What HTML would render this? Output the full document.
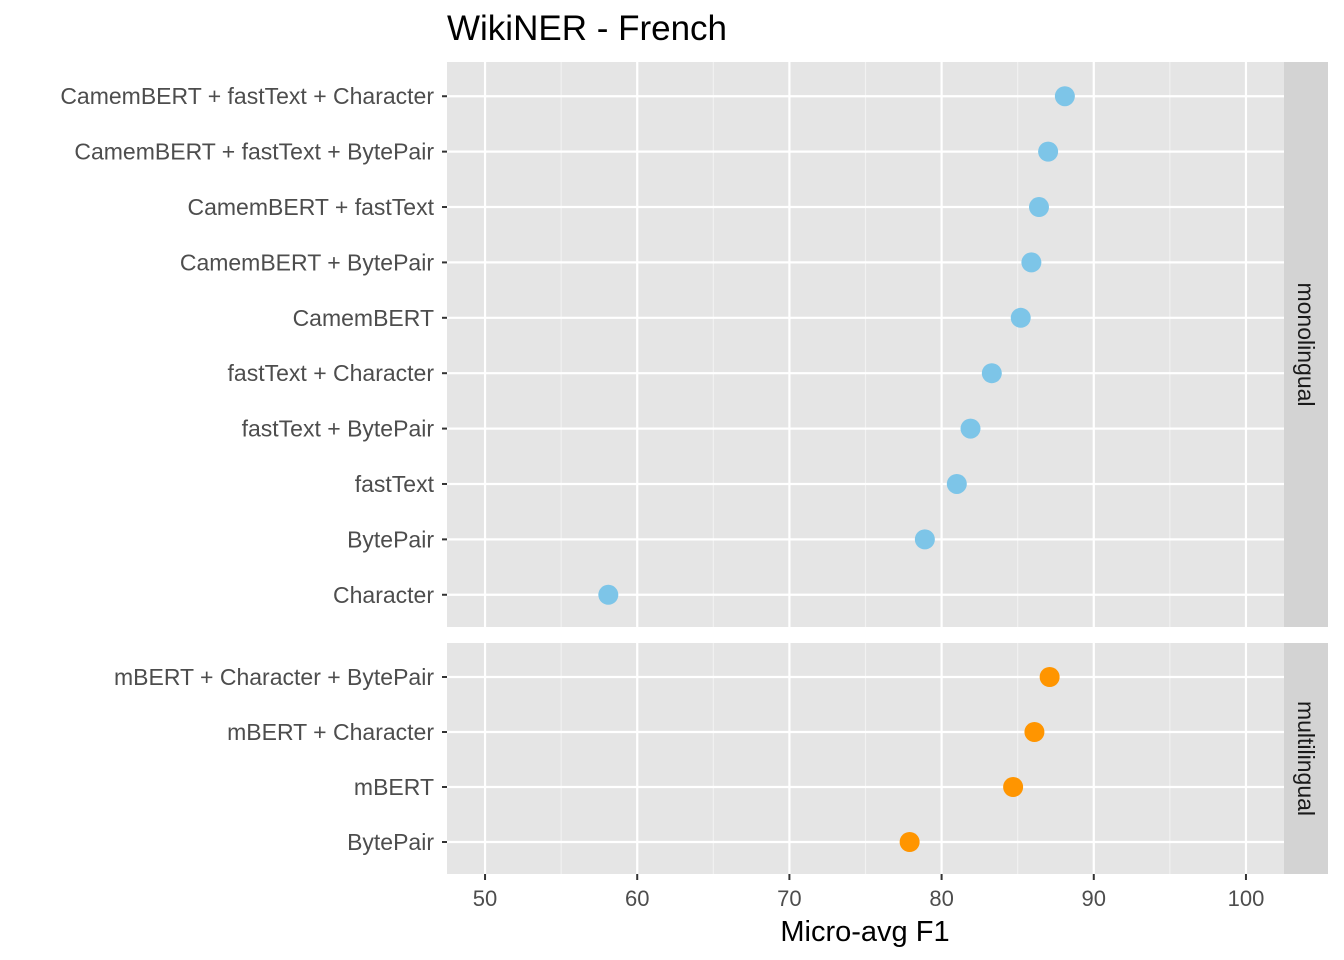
<!DOCTYPE html>
<html><head><meta charset="utf-8"><style>
body{margin:0;background:#fff;}
svg{display:block;font-family:"Liberation Sans",Arial,sans-serif;}
</style></head><body>
<svg id="chart" width="1344" height="960"></svg>
<script>
const monoLabels=["CamemBERT + fastText + Character","CamemBERT + fastText + BytePair","CamemBERT + fastText","CamemBERT + BytePair","CamemBERT","fastText + Character","fastText + BytePair","fastText","BytePair","Character"];
const monoValues=[88.1,87.0,86.4,85.9,85.2,83.3,81.9,81.0,78.9,58.1];
const multiLabels=["mBERT + Character + BytePair","mBERT + Character","mBERT","BytePair"];
const multiValues=[87.1,86.1,84.7,77.9];
const xTicks=[50,60,70,80,90,100];
const xMinor=[55,65,75,85,95];

const NS="http://www.w3.org/2000/svg";
const svg=document.getElementById('chart');
function el(tag,attrs,parent){const e=document.createElementNS(NS,tag);for(const k in attrs)e.setAttribute(k,attrs[k]);(parent||svg).appendChild(e);return e;}
const X0=447,X1=1284,DMIN=47.5,DMAX=102.5;
const x=v=>X0+(v-DMIN)/(DMAX-DMIN)*(X1-X0);

function panel(labels,values,top,bottom,color,strip,name){
  const g=el('g',{});
  
  
  el('rect',{x:X0,y:top,width:X1-X0,height:bottom-top,fill:'#e5e5e5'},g);
  const n=labels.length,step=(bottom-top)/(n+0.2);
  const y=i=>top+step*0.6+i*step+1;
  xMinor.forEach(v=>el('line',{x1:x(v),x2:x(v),y1:top,y2:bottom,stroke:'#f2f2f2','stroke-width':1.1},g));
  xTicks.forEach(v=>el('line',{x1:x(v),x2:x(v),y1:top,y2:bottom,stroke:'#fff','stroke-width':2.2},g));
  labels.forEach((l,i)=>{
    el('line',{x1:X0,x2:X1,y1:y(i),y2:y(i),stroke:'#fff','stroke-width':2.2},g);
    el('line',{x1:X0-5,x2:X0,y1:y(i),y2:y(i),stroke:'#333','stroke-width':2},g);
    const t=el('text',{x:X0-13,y:y(i)+8,'text-anchor':'end','font-size':23,fill:'#4d4d4d'},g);
    t.textContent=l;
    
    
  });
  values.forEach((v,i)=>{
    const c=el('circle',{cx:x(v),cy:y(i),r:10,fill:color},g);
    
    
  });
  const s=el('rect',{x:1284,y:top,width:44,height:bottom-top,fill:'#d3d3d3'},g);
  
  
  const cy=(top+bottom)/2;
  const st=el('text',{x:1298,y:cy,'text-anchor':'middle','font-size':23,fill:'#1a1a1a',transform:`rotate(90 1298 ${cy})`},g);
  st.textContent=strip;
}
panel(monoLabels,monoValues,62,627,'#7dc5e8','monolingual','monolingual');
panel(multiLabels,multiValues,643,874,'#ff9500','multilingual','multilingual');

xTicks.forEach(v=>{
  el('line',{x1:x(v),x2:x(v),y1:874,y2:880,stroke:'#333','stroke-width':2});
  const t=el('text',{x:x(v),y:906,'text-anchor':'middle','font-size':22,fill:'#4d4d4d'});
  t.textContent=v;
  
  
});
const xt=el('text',{x:865,y:941,'text-anchor':'middle','font-size':29,fill:'#000'});
xt.textContent='Micro-avg F1';


const tt=el('text',{x:447,y:40,'font-size':35,fill:'#000'});
tt.textContent='WikiNER - French';


</script>
</body></html>
